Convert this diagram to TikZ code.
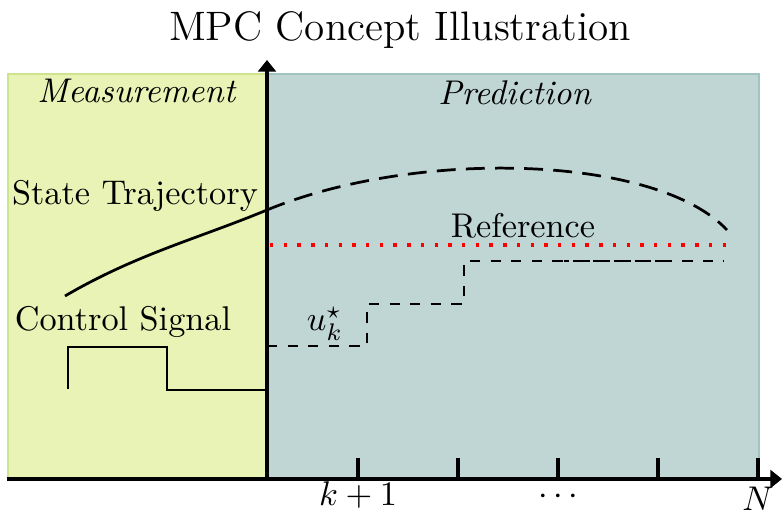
\documentclass[tikz,border=0pt]{standalone}
\usetikzlibrary{arrows.meta}

\definecolor{measfill}{RGB}{233,243,181}
\definecolor{measedge}{RGB}{205,228,140}
\definecolor{predfill}{RGB}{192,214,212}
\definecolor{prededge}{RGB}{160,196,191}

\tikzset{
  axisline/.style={line width=1.2pt, -{Triangle[width=5.2pt,length=3.4pt]}},
  tickmark/.style={line width=1pt},
  statecurve/.style={line width=0.8pt},
  statepred/.style={line width=0.8pt, dash pattern=on 5.5pt off 3pt},
  refline/.style={red, line width=1pt, dash pattern=on 1pt off 3pt},
  ctrlpast/.style={line width=0.6pt},
  ctrlpred/.style={line width=0.6pt, dashed},
  lbl/.style={inner sep=0pt}
}

\begin{document}
\begin{tikzpicture}[x=1.025cm, y=1.025cm]
  \useasboundingbox (-2.67,-0.35) rectangle (5.15,4.79);

  % past and horizon regions
  \fill[measfill, draw=measedge, line width=0.5pt] (-2.59,0) rectangle (0,4.05);
  \fill[predfill, draw=prededge, line width=0.5pt] (0,0) rectangle (4.92,4.05);

  % labels of the regions
  \node[lbl] (meas) at (-1.30,3.88) {\textit{Measurement}};
  \node[lbl] (pred) at (2.48,3.86) {\textit{Prediction}};
  \node[lbl] (title) at (1.33,4.49) {\large MPC Concept Illustration};

  % state trajectory: measured part and predicted part
  \draw[statecurve] (-2.02,1.83) .. controls (-1.3,2.25) and (-0.7,2.40) .. (0,2.69);
  \draw[statepred] (0,2.69) .. controls (1.5,3.31) and (3.9,3.24) .. (4.60,2.49);
  \node[lbl] (statelbl) at (-1.32,2.83) {State Trajectory};

  % reference
  \draw[refline] (0.03,2.34) -- (4.63,2.34);
  \node[lbl] (reflbl) at (2.56,2.53) {Reference};

  % applied control signal
  \draw[ctrlpast] (-1.99,0.90) -- (-1.99,1.32) -- (-1.00,1.32) -- (-1.00,0.89) -- (0,0.89);
  \node[lbl] (ctrllbl) at (-1.44,1.57) {Control Signal};

  % optimal predicted control sequence
  \draw[ctrlpred] (0,1.33) -- (1.00,1.33) -- (1.00,1.75) -- (1.97,1.75) -- (1.97,2.18) -- (3.97,2.18);
  \draw[ctrlpred, dash phase=1.5pt] (2.97,2.18) -- (4.57,2.18);
  \node[lbl] (ustar) at (0.58,1.55) {$u_k^\star$};

  % time axis with ticks
  \coordinate (xstart) at (-2.60,0);
  \coordinate (xend) at (5.15,0);
  \draw[axisline] (xstart) -- (xend);
  \foreach \t in {0.91,1.91,2.91,3.91,4.91}
    \draw[tickmark] (\t,0) -- (\t,0.21);
  \node[lbl] (k1) at (0.91,-0.16) {$k+1$};
  \node[lbl] (dots) at (2.91,-0.18) {$\cdots$};
  \node[lbl] (nlbl) at (4.91,-0.20) {$N$};

  % present time
  \coordinate (ystart) at (0,0);
  \coordinate (yend) at (0,4.19);
  \draw[axisline] (ystart) -- (yend);
\end{tikzpicture}
\end{document}
